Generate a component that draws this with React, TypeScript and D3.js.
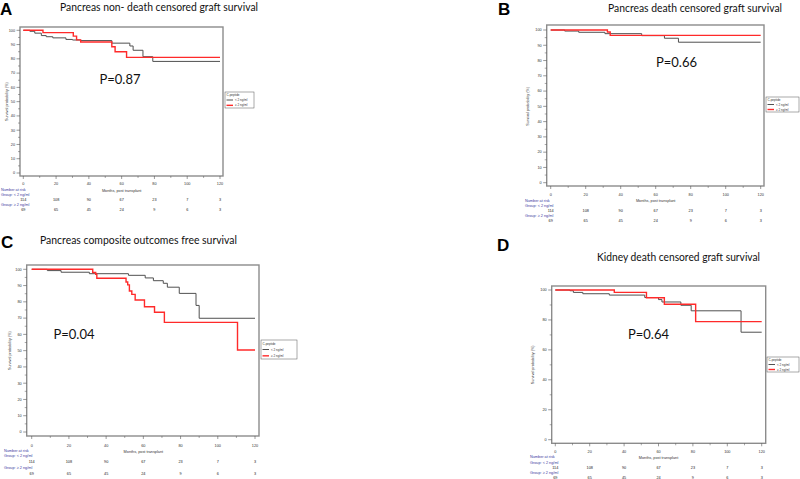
import React from "react";
import * as d3 from "d3";

// ---- data ----
const xTicks = [0, 20, 40, 60, 80, 100, 120];
const riskLow = [114, 108, 90, 67, 23, 7, 3];
const riskHigh = [69, 65, 45, 24, 9, 6, 3];
const groupLabels = ["< 2 ng/ml", "\u2265 2 ng/ml"];
const panelLetters = ["A", "B", "C", "D"];
const panelTitles = [
  "Pancreas  non- death censored graft survival",
  "Pancreas death censored graft survival",
  "Pancreas composite outcomes free survival",
  "Kidney death censored graft survival",
];
const pValues = ["P=0.87", "P=0.66", "P=0.04", "P=0.64"];

const aLowT = [0, 4, 7, 11, 14, 18, 26, 30, 35, 54, 65, 67, 73, 79, 120];
const aLowS = [100, 99.3, 98, 96.3, 95.5, 94.7, 93.6, 93.2, 92.8, 91, 89, 86, 81.5, 78.2, 78.2];
const aHighT = [0, 12, 30.5, 32.5, 35, 54, 56, 63, 120];
const aHighS = [100, 98.4, 95.9, 93.3, 91.8, 88.5, 85, 81, 81];

const bLowT = [0, 8, 16, 31, 52, 65, 73, 120];
const bLowS = [100, 99.3, 98.5, 97.6, 96.3, 94.6, 92, 92];
const bHighT = [0, 32.4, 34, 120];
const bHighS = [100, 98.7, 96.5, 96.5];

const cLowT = [0, 8.4, 15.8, 31, 52, 61, 65.4, 70.7, 72.9, 79.3, 88.3, 90, 120];
const cLowS = [100, 99.2, 98.2, 97.3, 96.3, 94.7, 93, 91.4, 89, 85.2, 77.8, 69.9, 69.9];
const cHighT = [0, 32.8, 34.4, 35, 50.7, 51.6, 52.5, 53.8, 55.6, 60.6, 66, 71.3, 110.6, 120];
const cHighS = [100, 98, 97, 94.5, 92.2, 90.4, 86.7, 84.6, 81.1, 77, 73.6, 67.4, 50.4, 50.4];

const dLowT = [0, 8.5, 10.5, 16, 31.4, 52, 60, 62, 73, 79, 108, 120];
const dLowS = [100, 99.5, 98.4, 97.5, 96.6, 95, 93.6, 92, 89.8, 86.1, 71.8, 71.8];
const dHighT = [0, 34.3, 53, 63.4, 81.6, 120];
const dHighS = [100, 98.4, 94.8, 90.5, 78.9, 78.9];

const seriesData = [
  [[aLowT, aLowS], [aHighT, aHighS]],
  [[bLowT, bLowS], [bHighT, bHighS]],
  [[cLowT, cLowS], [cHighT, cHighS]],
  [[dLowT, dLowS], [dHighT, dHighS]],
];

// ---- layout ----
type Layout = {
  frame: [number, number, number, number];
  x0: number; x1: number; y100: number; y0: number;
  yStep: number; yMinor: number;
  letter: [number, number]; title: [number, number, number];
  p: [number, number];
  legend: [number, number, number, number];
  tickY: number; xTitleY: number;
  nar: [number, number, number, number, number];
  labX: number; yLabX: number;
};

const layouts: Layout[] = [
  { frame: [20, 27, 223, 176], x0: 23.3, x1: 220, y100: 30.3, y0: 173, yStep: 10, yMinor: 5,
    letter: [0, 15], title: [60, 11, 198], p: [120, 84], legend: [225, 92, 254, 108],
    tickY: 184, xTitleY: 191, nar: [190, 195, 200, 205, 209.5], labX: 1, yLabX: 7 },
  { frame: [546.7, 25, 764, 186], x0: 550.7, x1: 760.7, y100: 30, y0: 182.7, yStep: 10, yMinor: 5,
    letter: [498, 15], title: [608, 11.5, 174], p: [676.5, 67], legend: [766, 97, 799, 112],
    tickY: 195, xTitleY: 201, nar: [200.7, 206, 210.7, 216, 221], labX: 525, yLabX: 528 },
  { frame: [26.7, 265, 259, 436], x0: 31.7, x1: 255, y100: 269.3, y0: 432, yStep: 10, yMinor: 5,
    letter: [1, 248], title: [40, 244, 197], p: [74, 338.5], legend: [261, 340, 297, 359],
    tickY: 445.7, xTitleY: 451.7, nar: [450.3, 456, 462, 468, 473.7], labX: 4, yLabX: 10 },
  { frame: [551.7, 286, 765.7, 443.3], x0: 555.3, x1: 761.7, y100: 290, y0: 439.7, yStep: 20, yMinor: 10,
    letter: [497, 251], title: [597, 261, 163], p: [648.5, 338.5], legend: [767, 357, 799, 372],
    tickY: 451.7, xTitleY: 457.7, nar: [457, 462.7, 467.7, 472.3, 477.3], labX: 530, yLabX: 533 },
];

const lineColors = ["#505050", "#ff2a2a"];
const lineWidths = [1, 1.4];
const blue = "#3a3aa0";
const small = "Liberation Sans, Arial, sans-serif";
const titleFont = "Lato, 'Open Sans', sans-serif";

function Panel({ i }: { i: number }) {
  const L = layouts[i];
  const x = d3.scaleLinear().domain([0, 120]).range([L.x0, L.x1]);
  const y = d3.scaleLinear().domain([0, 100]).range([L.y0, L.y100]);
  const line = d3
    .line<[number, number]>()
    .x((d) => x(d[0]))
    .y((d) => y(d[1]))
    .curve(d3.curveStepAfter);
  const [fx0, fy0, fx1, fy1] = L.frame;
  const yMajor = d3.range(0, 100.1, L.yStep);
  const yMinorT = d3.range(0, 100.1, L.yMinor).filter((v) => v % L.yStep !== 0);
  const xMinorT = d3.range(10, 120, 20);
  const [lx0, ly0, lx1, ly1] = L.legend;
  const lh = (ly1 - ly0) / 3;
  return (
    <g>
      <text x={L.letter[0]} y={L.letter[1]} fontFamily="Liberation Sans, Arial" fontWeight="bold" fontSize={17}>
        {panelLetters[i]}
      </text>
      <text
        x={L.title[0]}
        y={L.title[1]}
        textLength={L.title[2]}
        lengthAdjust="spacingAndGlyphs"
        fontFamily={titleFont}
        fontSize={11}
        fill="#111"
      >
        {panelTitles[i]}
      </text>
      <rect x={fx0} y={fy0} width={fx1 - fx0} height={fy1 - fy0} fill="none" stroke="#8c8c8c" strokeWidth={1.4} />
      {yMajor.map((v) => (
        <g key={"ym" + v}>
          <line x1={fx0 - 3.5} x2={fx0} y1={y(v)} y2={y(v)} stroke="#555" strokeWidth={0.6} />
          <text x={fx0 - 5} y={y(v)} dy="0.35em" textAnchor="end" fontFamily={small} fontSize={3.8} fill="#333">
            {v}
          </text>
        </g>
      ))}
      {yMinorT.map((v) => (
        <line key={"yn" + v} x1={fx0 - 2} x2={fx0} y1={y(v)} y2={y(v)} stroke="#555" strokeWidth={0.5} />
      ))}
      {xTicks.map((v) => (
        <g key={"xm" + v}>
          <line x1={x(v)} x2={x(v)} y1={fy1} y2={fy1 + 3} stroke="#555" strokeWidth={0.6} />
          <text x={x(v)} y={L.tickY} dy="0.35em" textAnchor="middle" fontFamily={small} fontSize={3.8} fill="#333">
            {v}
          </text>
        </g>
      ))}
      {xMinorT.map((v) => (
        <line key={"xn" + v} x1={x(v)} x2={x(v)} y1={fy1} y2={fy1 + 2} stroke="#555" strokeWidth={0.5} />
      ))}
      <text x={x(60)} y={L.xTitleY} dy="0.35em" textAnchor="middle" fontFamily={small} fontSize={3.8} fill="#333">
        Months, post transplant
      </text>
      <text
        transform={`translate(${L.yLabX},${(L.y0 + L.y100) / 2}) rotate(-90)`}
        textAnchor="middle"
        dy="0.35em"
        fontFamily={small}
        fontSize={3.8}
        fill="#333"
      >
        Survival probability (%)
      </text>
      {seriesData[i].map((s, k) => {
        const pts: [number, number][] = s[0].map((t, j) => [t, s[1][j]]);
        return (
          <path key={"s" + k} d={line(pts) || ""} fill="none" stroke={lineColors[k]} strokeWidth={lineWidths[k]} />
        );
      })}
      <text x={L.p[0]} y={L.p[1]} textAnchor="middle" fontFamily={titleFont} fontSize={13} fill="#111">
        {pValues[i]}
      </text>
      <rect x={lx0} y={ly0} width={lx1 - lx0} height={ly1 - ly0} fill="#fff" stroke="#555" strokeWidth={0.5} />
      <text x={lx0 + 1.5} y={ly0 + lh * 0.55} dy="0.35em" fontFamily={small} fontSize={3} fill="#333">
        C-peptide
      </text>
      {groupLabels.map((g, k) => (
        <g key={"lg" + k}>
          <line
            x1={lx0 + 1.5}
            x2={lx0 + 8}
            y1={ly0 + lh * (1.5 + k)}
            y2={ly0 + lh * (1.5 + k)}
            stroke={lineColors[k]}
            strokeWidth={lineWidths[k]}
          />
          <text x={lx0 + 10} y={ly0 + lh * (1.5 + k)} dy="0.35em" fontFamily={small} fontSize={3} fill="#333">
            {g}
          </text>
        </g>
      ))}
      <text x={L.labX} y={L.nar[0]} dy="0.35em" fontFamily={small} fontSize={3.8} fill={blue}>
        Number at risk
      </text>
      <text x={L.labX} y={L.nar[1]} dy="0.35em" fontFamily={small} fontSize={3.8} fill={blue}>
        {"Group: " + groupLabels[0]}
      </text>
      <text x={L.labX} y={L.nar[3]} dy="0.35em" fontFamily={small} fontSize={3.8} fill={blue}>
        {"Group: " + groupLabels[1]}
      </text>
      {riskLow.map((v, k) => (
        <text key={"rl" + k} x={x(xTicks[k])} y={L.nar[2]} dy="0.35em" textAnchor="middle" fontFamily={small} fontSize={3.8} fill="#222">
          {v}
        </text>
      ))}
      {riskHigh.map((v, k) => (
        <text key={"rh" + k} x={x(xTicks[k])} y={L.nar[4]} dy="0.35em" textAnchor="middle" fontFamily={small} fontSize={3.8} fill="#222">
          {v}
        </text>
      ))}
    </g>
  );
}

export default function App() {
  return (
    <svg width={800} height={479} style={{ position: "absolute", left: 0, top: 0, background: "#fff" }}>
      <rect width={800} height={479} fill="#fff" />
      {[0, 1, 2, 3].map((i) => (
        <Panel key={i} i={i} />
      ))}
    </svg>
  );
}
